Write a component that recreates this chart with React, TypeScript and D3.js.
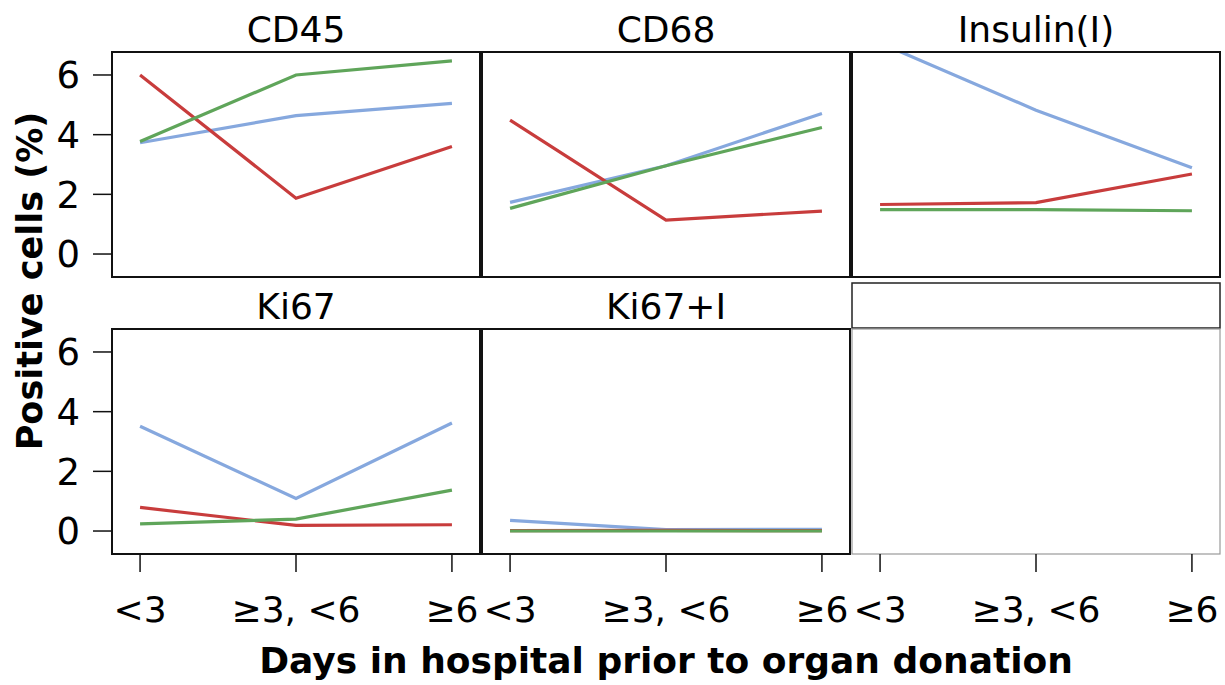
import React from "react";
import * as d3 from "d3";

// Days-in-hospital groups on the x axis
const categories = ["<3", "\u22653, <6", "\u22656"];

// One panel per marker, in lattice order (left to right, top to bottom)
const markers = ["CD45", "CD68", "Insulin(I)", "Ki67", "Ki67+I"];

// Positive cells (%) per marker, one array per series
const blueSeries = [
  [3.73, 4.64, 5.05],
  [1.73, 2.96, 4.71],
  [7.07, 4.82, 2.89],
  [3.51, 1.09, 3.62],
  [0.36, 0.05, 0.06],
];
const redSeries = [
  [6.0, 1.87, 3.6],
  [4.49, 1.14, 1.44],
  [1.66, 1.72, 2.68],
  [0.79, 0.19, 0.21],
  [0.01, 0.02, 0.01],
];
const greenSeries = [
  [3.77, 6.0, 6.47],
  [1.53, 2.96, 4.24],
  [1.49, 1.49, 1.45],
  [0.24, 0.4, 1.37],
  [0.0, 0.0, 0.0],
];

const yTicks = [0, 2, 4, 6];

const series = [
  { values: blueSeries, color: "#86a8de" },
  { values: redSeries, color: "#c83c3c" },
  { values: greenSeries, color: "#5fa55a" },
];

const App = () => {
  // Layout of the 3 x 2 lattice
  const width = 1225;
  const height = 685;
  const colLeft = [112, 482, 852];
  const rowTop = [52, 329];
  const panelW = 368;
  const panelH = 225;
  const stripH = 47;
  const font = "DejaVu Sans, sans-serif";

  // Shared scales for every panel
  const x = d3.scalePoint<string>().domain(categories).range([0, panelW]).padding(0.18);
  const y = d3.scaleLinear().domain([-0.77, 6.77]).range([panelH, 0]);
  const line = d3
    .line<number>()
    .x((_, i) => x(categories[i]) as number)
    .y((d) => y(d));

  const panels = [0, 1, 2, 3, 4, 5].map((k) => ({
    k,
    col: k % 3,
    row: Math.floor(k / 3),
  }));

  return (
    <svg
      width={width}
      height={height}
      style={{ position: "absolute", left: 0, top: 0, background: "#fff" }}
      fontFamily={font}
    >
      <defs>
        <clipPath id="panel-clip">
          <rect x={0} y={0} width={panelW} height={panelH} />
        </clipPath>
      </defs>

      {panels.map(({ k, col, row }) => {
        const left = colLeft[col];
        const top = rowTop[row];
        const empty = k >= markers.length;
        return (
          <g key={k} transform={`translate(${left},${top})`}>
            {/* strip */}
            {empty ? (
              <rect x={0} y={-stripH + 1} width={panelW} height={stripH - 2} fill="none" stroke="#222" strokeWidth={1.5} />
            ) : (
              <text x={panelW / 2} y={-10} textAnchor="middle" fontSize={36} fill="#000">
                {markers[k]}
              </text>
            )}

            {/* lines */}
            {!empty && (
              <g clipPath="url(#panel-clip)">
                {series.map((s, i) => (
                  <path key={i} d={line(s.values[k]) ?? ""} fill="none" stroke={s.color} strokeWidth={3.2} />
                ))}
              </g>
            )}

            {/* panel border */}
            <rect
              x={0}
              y={0}
              width={panelW}
              height={panelH}
              fill="none"
              stroke={empty ? "#999" : "#111"}
              strokeWidth={empty ? 1.2 : 2}
            />

            {/* y axis on the first column */}
            {col === 0 &&
              yTicks.map((t) => (
                <g key={t} transform={`translate(0,${y(t)})`}>
                  <line x1={-19} x2={0} stroke="#111" strokeWidth={1.5} />
                  <text x={-32} dy="0.36em" textAnchor="end" fontSize={37} fill="#000">
                    {t}
                  </text>
                </g>
              ))}

            {/* x axis on the bottom row */}
            {row === 1 &&
              categories.map((c) => (
                <g key={c} transform={`translate(${x(c)},${panelH})`}>
                  <line y1={0} y2={18} stroke="#111" strokeWidth={1.5} />
                  <text y={68} textAnchor="middle" fontSize={36} fill="#000">
                    {c}
                  </text>
                </g>
              ))}
          </g>
        );
      })}

      {/* axis titles */}
      <text
        transform={`translate(42,281) rotate(-90)`}
        textAnchor="middle"
        fontSize={35}
        fontWeight="bold"
        fill="#000"
      >
        Positive cells (%)
      </text>
      <text x={666} y={673} textAnchor="middle" fontSize={36} fontWeight="bold" fill="#000">
        Days in hospital prior to organ donation
      </text>
    </svg>
  );
};

export default App;
